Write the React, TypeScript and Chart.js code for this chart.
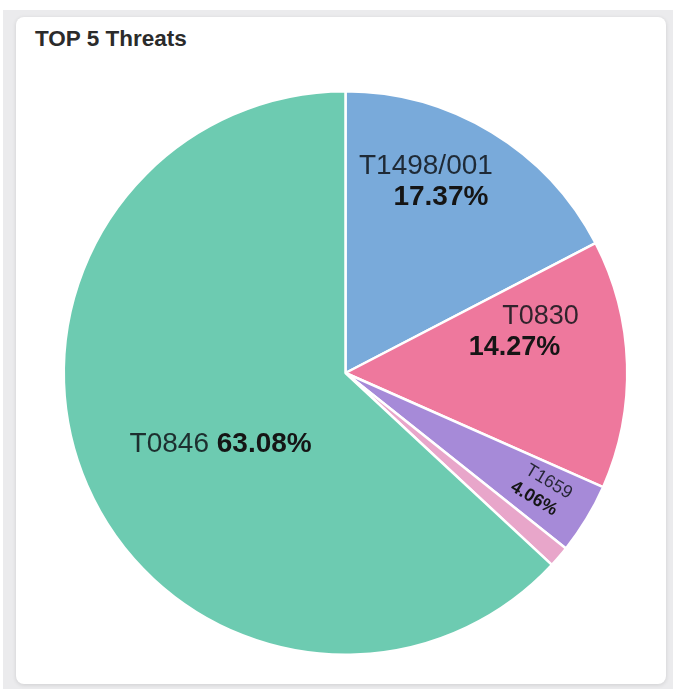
import React, { useEffect, useRef } from "react";
import { Chart, registerables } from "chart.js";

Chart.register(...registerables);

const categories = ["T1498/001", "T0830", "T1659", "Other", "T0846"];
const shares = [17.37, 14.27, 4.06, 1.22, 63.08];
const showLabel = [true, true, true, false, true];
const sliceColors = ["#79aada", "#ee789d", "#a68ad8", "#e8a6ca", "#6dcbb1"];

// label layout styles: where inside the slice (fraction of its angle, fraction of radius)
const labelStyles = [
  { frac: 0.393, rf: 0.746, size: 28, gap: 31, shifts: [-7, 8], oneLine: false, rotate: false },
  { frac: 0.29, rf: 0.662, size: 27, gap: 31, shifts: [13, -13], oneLine: false, rotate: false },
  { frac: 0.48, rf: 0.81, size: 18, gap: 22, shifts: [2, -2], oneLine: false, rotate: true },
  { frac: 0.5, rf: 0.8, size: 12, gap: 14, shifts: [0, 0], oneLine: false, rotate: false },
  { frac: 0.473, rf: 0.51, size: 28, gap: 31, shifts: [0, 0], oneLine: true, rotate: false },
];

const FONT = "'Liberation Sans', Arial, sans-serif";

const labelPlugin = {
  id: "sliceLabels",
  afterDatasetsDraw(chart: any) {
    const ctx = chart.ctx;
    const meta = chart.getDatasetMeta(0);
    meta.data.forEach((arc: any, i: number) => {
      if (!showLabel[i]) return;
      const st = labelStyles[i];
      const p = arc.getProps(["x", "y", "startAngle", "endAngle", "outerRadius"], true);
      const a = p.startAngle + (p.endAngle - p.startAngle) * st.frac;
      const r = p.outerRadius * st.rf;
      const cx = p.x + Math.cos(a) * r;
      const cy = p.y + Math.sin(a) * r;
      const name = categories[i];
      const pct = shares[i].toFixed(2) + "%";
      ctx.save();
      ctx.translate(cx, cy);
      if (st.rotate) ctx.rotate(a);
      ctx.textBaseline = "middle";
      if (st.oneLine) {
        ctx.font = `${st.size}px ${FONT}`;
        const w1 = ctx.measureText(name + " ").width;
        ctx.font = `bold ${st.size}px ${FONT}`;
        const w2 = ctx.measureText(pct).width;
        const x0 = -(w1 + w2) / 2;
        ctx.textAlign = "left";
        ctx.font = `${st.size}px ${FONT}`;
        ctx.fillStyle = "rgba(15,20,25,0.85)";
        ctx.fillText(name + " ", x0, 0);
        ctx.font = `bold ${st.size}px ${FONT}`;
        ctx.fillStyle = "#151515";
        ctx.fillText(pct, x0 + w1, 0);
      } else {
        ctx.textAlign = "center";
        ctx.font = `${st.size}px ${FONT}`;
        ctx.fillStyle = "rgba(15,20,25,0.85)";
        ctx.fillText(name, st.shifts[0], -st.gap / 2);
        ctx.font = `bold ${st.size}px ${FONT}`;
        ctx.fillStyle = "#151515";
        ctx.fillText(pct, st.shifts[1], st.gap / 2);
      }
      ctx.restore();
    });
  },
};

export default function App() {
  const ref = useRef<HTMLCanvasElement | null>(null);
  useEffect(() => {
    if (!ref.current) return;
    const chart = new Chart(ref.current, {
      type: "pie",
      data: {
        labels: categories,
        datasets: [
          {
            data: shares,
            backgroundColor: sliceColors,
            borderColor: "#ffffff",
            borderWidth: 2.5,
          },
        ],
      },
      options: {
        animation: false,
        responsive: false,
        maintainAspectRatio: false,
        layout: { padding: { left: 62, right: 44, top: 90, bottom: 33 } },
        plugins: {
          legend: { display: false },
          tooltip: { enabled: false },
          title: { display: false },
        },
      },
      plugins: [labelPlugin],
    });
    return () => chart.destroy();
  }, []);

  return (
    <div style={{ position: "fixed", left: 0, top: 0, width: 673, height: 689, background: "#ffffff", overflow: "hidden" }}>
      <div style={{ position: "absolute", left: 3, top: 10, width: 670, height: 679, background: "#ebebed" }} />
      <div
        style={{
          position: "absolute",
          left: 16,
          top: 17,
          width: 650,
          height: 667,
          background: "#ffffff",
          borderRadius: 8,
          boxShadow: "0 1px 4px rgba(0,0,0,0.12)",
        }}
      />
      <div
        style={{
          position: "absolute",
          left: 35,
          top: 27,
          fontFamily: "'Liberation Sans', Arial, sans-serif",
          fontWeight: 700,
          fontSize: 22.5,
          lineHeight: "24px",
          color: "#2b2b2b",
          whiteSpace: "nowrap",
        }}
      >
        TOP 5 Threats
      </div>
      <canvas ref={ref} width={673} height={689} style={{ position: "absolute", left: 0, top: 0 }} />
    </div>
  );
}
